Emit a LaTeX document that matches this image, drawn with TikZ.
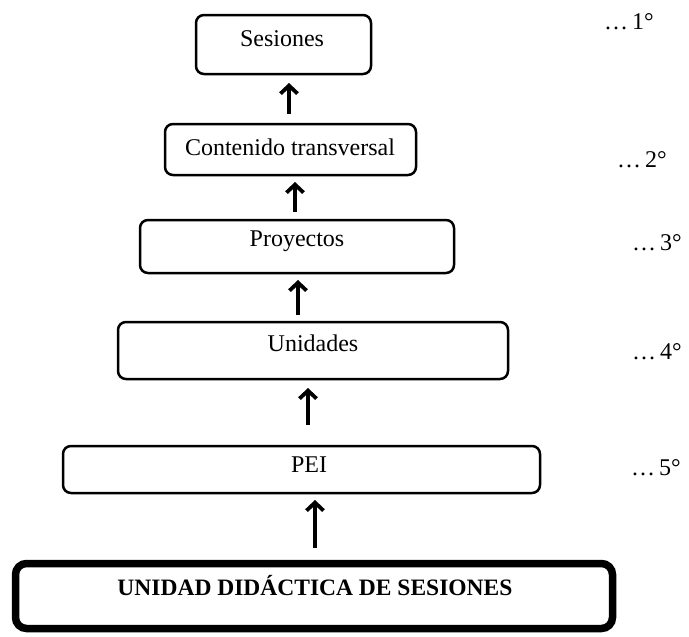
\documentclass[tikz,border=0pt]{standalone}
\usepackage{fontspec}
\setmainfont{Liberation Serif}
\usetikzlibrary{arrows.meta}
\begin{document}
\begin{tikzpicture}[x=1pt,y=-1pt,
  box/.style={draw=black,line width=2.5pt,rounded corners=8pt,inner sep=0pt,outer sep=0pt},
  bigbox/.style={draw=black,line width=7.5pt,rounded corners=11pt,inner sep=0pt,outer sep=0pt},
  txt/.style={font=\fontsize{24}{26}\selectfont,inner sep=0pt},
  btxt/.style={font=\fontsize{23.5}{26}\selectfont\bfseries,inner sep=0pt},
  arr/.style={line width=3.8pt,-{Straight Barb[length=8pt,width=17pt]}}]
\useasboundingbox (0,0) rectangle (689,637);
% boxes
\node[box,minimum width=175pt,minimum height=59pt] (ses) at (283.5,44.5) {};
\node[box,minimum width=251pt,minimum height=51pt] (cont) at (290.5,149.5) {};
\node[box,minimum width=314pt,minimum height=53pt] (proy) at (297,246.5) {};
\node[box,minimum width=390pt,minimum height=57pt] (uni) at (313,350.5) {};
\node[box,minimum width=477pt,minimum height=47pt] (pei) at (301.5,469.5) {};
\node[bigbox,minimum width=597pt,minimum height=65pt] (ud) at (314,596) {};
% texts
\node[txt] (sest) at (282,39) {Sesiones};
\node[txt] (contt) at (290,147) {Contenido transversal};
\node[txt] (proyt) at (297,241) {Proyectos};
\node[txt] (unit) at (313,343) {Unidades};
\node[txt] (peit) at (309,465) {PEI};
\node[btxt] (udt) at (315,586) {UNIDAD DIDÁCTICA DE SESIONES};
% levels
\node[txt] (l1) at (629,22) {…\,1°};
\node[txt] (l2) at (642,160) {…\,2°};
\node[txt] (l3) at (657,243) {…\,3°};
\node[txt] (l4) at (657,352) {…\,4°};
\node[txt] (l5) at (656,468) {…\,5°};
% arrows
\draw[arr,shorten <=10pt,shorten >=9pt] ([xshift=-1.5pt]cont.north) -- ([xshift=5.5pt]ses.south);
\draw[arr,shorten <=8pt,shorten >=7pt] ([xshift=-2pt]proy.north) -- ([xshift=4.5pt]cont.south);
\draw[arr,shorten <=7pt,shorten >=7pt] ([xshift=-15pt]uni.north) -- ([xshift=1pt]proy.south);
\draw[arr,shorten <=21pt,shorten >=9pt] ([xshift=6.5pt]pei.north) -- ([xshift=-5pt]uni.south);
\draw[arr,shorten <=16pt,shorten >=7pt] ([xshift=1pt]ud.north) -- ([xshift=13.5pt]pei.south);
\end{tikzpicture}
\end{document}
